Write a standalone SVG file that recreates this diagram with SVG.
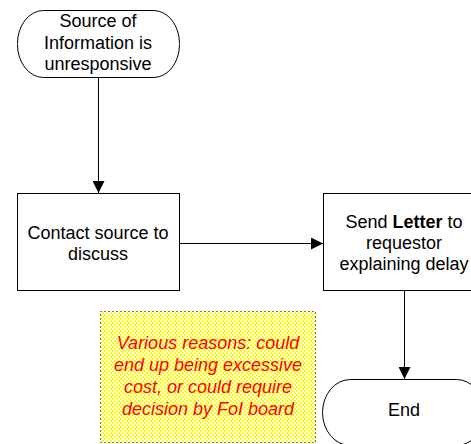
<svg xmlns="http://www.w3.org/2000/svg" width="471" height="444" viewBox="0 0 471 444">
  <defs>
    <marker id="arrow" viewBox="0 0 12 12" refX="12" refY="6" markerWidth="12" markerHeight="12" markerUnits="userSpaceOnUse" orient="auto">
      <path d="M0,0 L12,6 L0,12 Z" fill="#000"/>
    </marker>
    <pattern id="checker" width="4" height="4" patternUnits="userSpaceOnUse">
      <rect width="4" height="4" fill="#ffff00"/>
      <rect width="2" height="2" fill="#ffffff"/>
      <rect x="2" y="2" width="2" height="2" fill="#ffffff"/>
    </pattern>
    <style>
      .shape { fill: #ffffff; stroke: #000; stroke-width: 1; }
      .label { font-family: "Liberation Sans", Arial, sans-serif; font-size: 18px; fill: #000; text-anchor: middle; }
      .note-text { font-family: "Liberation Sans", Arial, sans-serif; font-size: 18px; font-style: italic; fill: #ff0000; text-anchor: middle; }
      .conn { fill: none; stroke: #000; stroke-width: 1; marker-end: url(#arrow); }
    </style>
  </defs>
  <rect width="471" height="444" fill="#ffffff"/>

  <g id="connectors">
    <path class="conn" d="M98.5,77 L98.5,193"/>
    <path class="conn" d="M179,243.5 L323,243.5"/>
    <path class="conn" d="M404.5,290 L404.5,379"/>
  </g>

  <g id="start">
    <rect class="shape" x="17.5" y="10.5" width="162" height="67" rx="26" ry="33"/>
    <text class="label" x="98" y="27">Source of</text>
    <text class="label" x="98" y="49">Information is</text>
    <text class="label" x="98" y="70">unresponsive</text>
  </g>

  <g id="contact">
    <rect class="shape" x="17.5" y="193.5" width="162" height="97"/>
    <text class="label" x="98" y="239">Contact source to</text>
    <text class="label" x="98" y="260">discuss</text>
  </g>

  <g id="send-letter">
    <rect class="shape" x="323.5" y="193.5" width="162" height="97"/>
    <text class="label" x="404" y="228">Send <tspan font-weight="bold">Letter</tspan> to</text>
    <text class="label" x="404" y="249">requestor</text>
    <text class="label" x="404" y="270">explaining delay</text>
  </g>

  <g id="end">
    <rect class="shape" x="322.5" y="379.5" width="162" height="66" rx="28" ry="33"/>
    <text class="label" x="404" y="416">End</text>
  </g>

  <g id="note">
    <rect x="100.5" y="311.5" width="215" height="131" fill="url(#checker)" stroke="#000" stroke-width="1" stroke-dasharray="1 3"/>
    <text class="note-text" x="208" y="349">Various reasons: could</text>
    <text class="note-text" x="208" y="371">end up being excessive</text>
    <text class="note-text" x="208" y="393">cost, or could require</text>
    <text class="note-text" x="208" y="415">decision by FoI board</text>
  </g>
</svg>
